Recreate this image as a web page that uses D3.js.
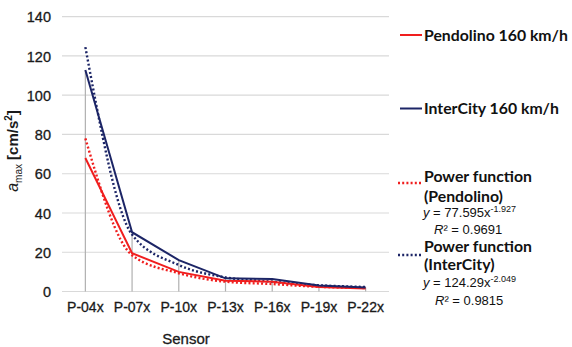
<!DOCTYPE html>
<html><head><meta charset="utf-8">
<script src="https://cdn.jsdelivr.net/npm/d3@7"></script>
<style>
html,body{margin:0;padding:0;background:#fff;}
svg{display:block;}
</style></head>
<body>
<svg id="chart" width="572" height="347"></svg>
<script>
const categories = ["P-04x","P-07x","P-10x","P-13x","P-16x","P-19x","P-22x"];
const pendolino = [68, 19.5, 10, 5.5, 5, 2.3, 1.5];
const intercity = [112.8, 30.2, 16, 6.7, 6.4, 3, 2];
const pendolinoFit = [78, 18.5, 9.3, 5, 3.8, 2.4, 1.8];
const intercityFit = [124.5, 29, 13.5, 7.2, 5, 3.2, 2.3];
const yTicks = [0, 20, 40, 60, 80, 100, 120, 140];

const RED = "#f01e1e", BLUE = "#1c2566";
const TXT = "#1a1a1a";
const svg = d3.select("#chart");
const x = d3.scaleBand().domain(categories).range([62, 389]).padding(0);
const y = d3.scaleLinear().domain([0, 140]).range([291.5, 16.7]);
const cx = c => x(c) + x.bandwidth() / 2;

// gridlines
svg.append("g").selectAll("line").data(yTicks).join("line")
  .attr("x1", 62).attr("x2", 389)
  .attr("y1", d => y(d)).attr("y2", d => y(d))
  .attr("stroke", "#d9d9d9").attr("stroke-width", 1.2);

// drop lines
svg.append("g").selectAll("line").data(categories).join("line")
  .attr("x1", cx).attr("x2", cx)
  .attr("y1", (c, i) => y(Math.max(pendolino[i], intercity[i])))
  .attr("y2", y(0))
  .attr("stroke", "#b0b0b0").attr("stroke-width", 1.2);

// y axis labels
const yAxis = d3.axisLeft(y).tickValues(yTicks).tickSize(0).tickPadding(0);
const gy = svg.append("g").attr("transform", "translate(51,0)").call(yAxis);
gy.select(".domain").remove();
gy.selectAll("text").attr("font-family", "Liberation Sans, Arial, sans-serif")
  .attr("font-size", 14.5).attr("fill", TXT).attr("stroke", TXT).attr("stroke-width", 0.3)
  .attr("dy", "0.36em");

// x axis labels
const xAxis = d3.axisBottom(x).tickSize(0).tickPadding(0);
const gx = svg.append("g").attr("transform", "translate(0,302)").call(xAxis);
gx.select(".domain").remove();
gx.selectAll("text").attr("font-family", "Liberation Sans, Arial, sans-serif")
  .attr("font-size", 14).attr("fill", TXT).attr("stroke", TXT).attr("stroke-width", 0.3)
  .attr("dy", "0.71em");

// lines
const line = d3.line().x((d, i) => cx(categories[i])).y(d => y(d));
const curve = d3.line().x((d, i) => cx(categories[i])).y(d => y(d)).curve(d3.curveMonotoneX);

svg.append("path").datum(pendolinoFit).attr("d", curve).attr("fill", "none")
  .attr("stroke", RED).attr("stroke-width", 2.4).attr("stroke-dasharray", "2,2.2");
svg.append("path").datum(intercityFit).attr("d", curve).attr("fill", "none")
  .attr("stroke", BLUE).attr("stroke-width", 2.4).attr("stroke-dasharray", "2,2.2");
svg.append("path").datum(pendolino).attr("d", line).attr("fill", "none")
  .attr("stroke", RED).attr("stroke-width", 2);
svg.append("path").datum(intercity).attr("d", line).attr("fill", "none")
  .attr("stroke", BLUE).attr("stroke-width", 2);

// axis titles
svg.append("text").attr("x", 186).attr("y", 344).attr("text-anchor", "middle")
  .attr("font-family", "Liberation Sans, Arial, sans-serif").attr("font-size", 15)
  .attr("fill", TXT).attr("stroke", TXT).attr("stroke-width", 0.3).text("Sensor");

const yt = svg.append("text").attr("transform", "translate(18,151) rotate(-90)")
  .attr("text-anchor", "middle")
  .attr("font-family", "Liberation Sans, Arial, sans-serif").attr("font-size", 15)
  .attr("fill", TXT);
yt.append("tspan").attr("font-style", "italic").attr("font-size", 16).text("a");
yt.append("tspan").attr("font-size", 10).attr("dy", 4).text("max");
yt.append("tspan").attr("dy", -4).attr("font-weight", "bold").text(" [cm/s");
yt.append("tspan").attr("font-size", 10).attr("dy", -6).attr("font-weight", "bold").text("2");
yt.append("tspan").attr("dy", 6).attr("font-weight", "bold").text("]");

// legend
const LF = "Lato, 'Open Sans', sans-serif";
const lg = svg.append("g");
function legText(tx, ty, t, size) {
  return lg.append("text").attr("x", tx).attr("y", ty).attr("font-family", LF)
    .attr("font-weight", "bold").attr("font-size", size || 15.8).attr("fill", "#111").text(t);
}
lg.append("line").attr("x1", 400).attr("x2", 422).attr("y1", 35).attr("y2", 35)
  .attr("stroke", RED).attr("stroke-width", 2);
legText(424, 40.5, "Pendolino 160 km/h");
lg.append("line").attr("x1", 400).attr("x2", 422).attr("y1", 108.5).attr("y2", 108.5)
  .attr("stroke", BLUE).attr("stroke-width", 2);
legText(424, 114, "InterCity 160 km/h");

lg.append("line").attr("x1", 398).attr("x2", 422).attr("y1", 183).attr("y2", 183)
  .attr("stroke", RED).attr("stroke-width", 2.4).attr("stroke-dasharray", "2,2.2");
legText(424, 182, "Power function");
legText(424, 201.5, "(Pendolino)");
lg.append("line").attr("x1", 398).attr("x2", 422).attr("y1", 255).attr("y2", 255)
  .attr("stroke", BLUE).attr("stroke-width", 2.4).attr("stroke-dasharray", "2,2.2");
legText(424, 251.5, "Power function");
legText(424, 270, "(InterCity)");

const EF = "Liberation Sans, Arial, sans-serif";
function eq(tx, ty, coef, exp) {
  const t = lg.append("text").attr("x", tx).attr("y", ty).attr("font-family", EF)
    .attr("font-size", 13).attr("fill", "#111");
  t.append("tspan").attr("font-style", "italic").text("y");
  t.append("tspan").text(" = " + coef + "x");
  t.append("tspan").attr("font-size", 9).attr("dy", -5).text(exp);
}
function r2(tx, ty, v) {
  const t = lg.append("text").attr("x", tx).attr("y", ty).attr("font-family", EF)
    .attr("font-size", 13).attr("fill", "#111");
  t.append("tspan").attr("font-style", "italic").text("R");
  t.append("tspan").text("² = " + v);
}
eq(423, 216.5, "77.595", "-1.927");
r2(434, 233.5, "0.9691");
eq(423, 286.5, "124.29", "-2.049");
r2(435, 304.5, "0.9815");
</script>
</body></html>
